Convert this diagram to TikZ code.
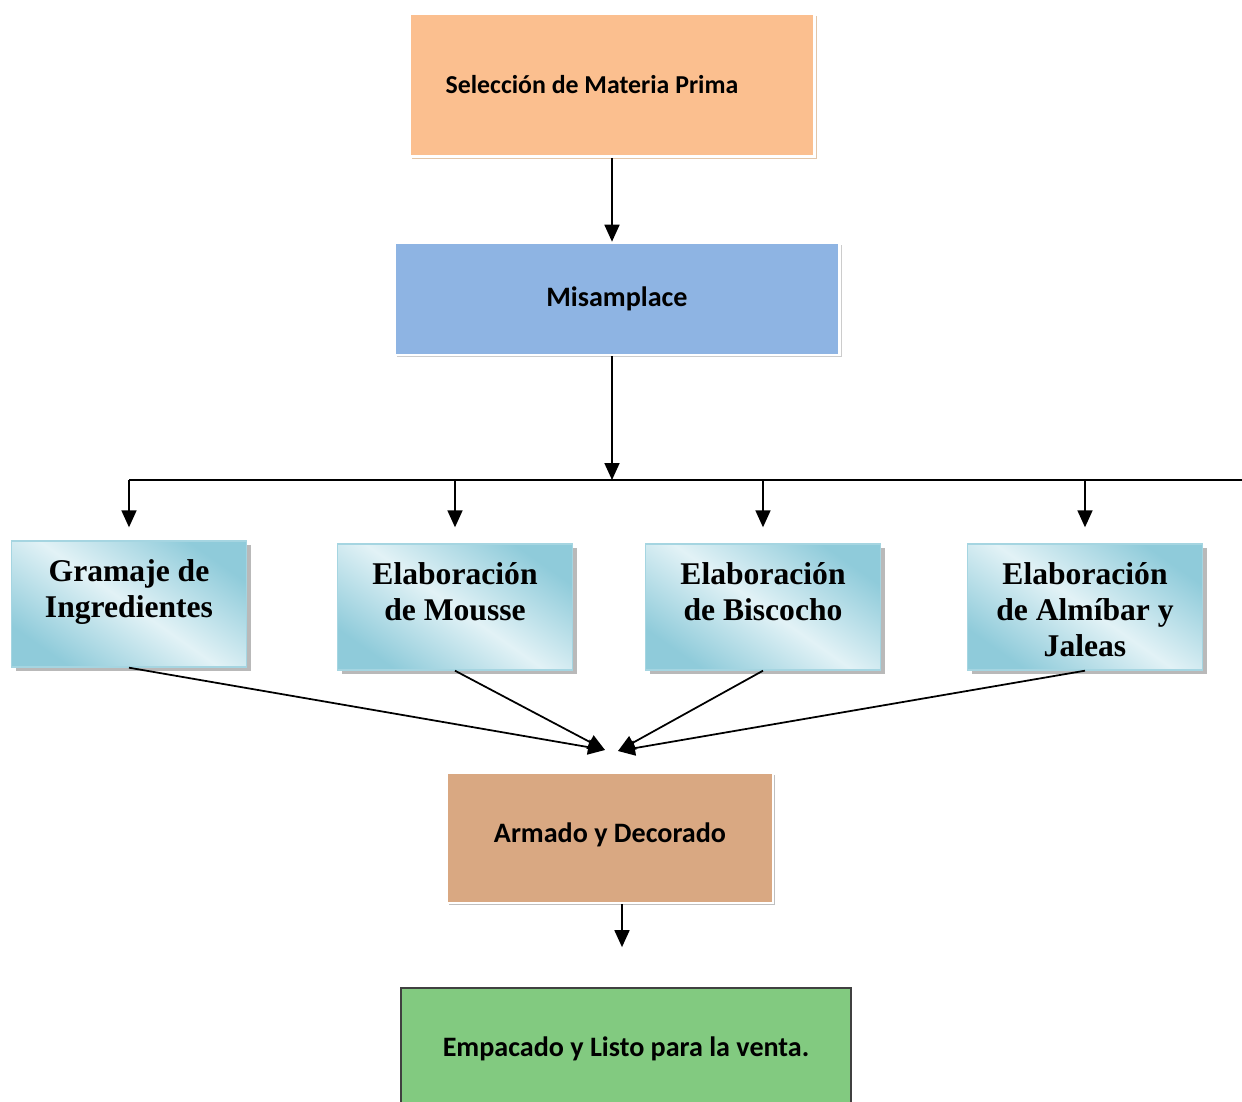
\documentclass[tikz,border=0pt]{standalone}
\usepackage{fontspec}
\setmainfont{Liberation Serif}
\newfontfamily\boxfont{Carlito}
\usetikzlibrary{arrows.meta,shadows}

\definecolor{selfill}{HTML}{FBBF8F}
\definecolor{misfill}{HTML}{8EB4E3}
\definecolor{armfill}{HTML}{D9A882}
\definecolor{empfill}{HTML}{82CA80}
\definecolor{cyandark}{HTML}{8FCBDA}
\definecolor{cyanlight}{HTML}{E2F2F6}

% top aligned text inside the blue step boxes
\newcommand{\toptext}[1]{\parbox[c][2.52cm][t]{4.7cm}{\centering\rule{0pt}{23pt}#1}}

\tikzset{
    flat/.style={draw=white, line width=1.5pt, inner sep=0pt,
        font=\boxfont\bfseries\fontsize{16}{18}\selectfont,
        general shadow={fill=#1, shadow xshift=1.2pt, shadow yshift=-1.2pt}},
    stepbox/.style={draw=cyandark!80, line width=0.8pt, inner sep=0pt,
        left color=cyandark, right color=cyandark, middle color=cyanlight,
        shading angle=-35,
        font=\bfseries\fontsize{18}{20.5}\selectfont,
        general shadow={fill=gray!55, shadow xshift=2.5pt, shadow yshift=-2.5pt}},
    link/.style={-{Triangle[length=0.34cm, width=0.3cm]}, line width=1pt}
}

\begin{document}
\begin{tikzpicture}[x=0.02cm, y=-0.02cm]
    \useasboundingbox (0, 0) rectangle (1242, 1102);
    \path
    (612, 85) node[flat=brown!45, fill=selfill, minimum width=8.1cm, minimum height=2.86cm] (sel)
        {\hspace*{-0.8cm}\fontsize{14.7}{17}\selectfont Selección de Materia Prima}
    (617, 299) node[flat=gray!40, fill=misfill, minimum width=8.9cm, minimum height=2.24cm] (mis)
        {Misamplace}
    (129, 604) node[stepbox] (gram) {\toptext{Gramaje de\\Ingredientes}}
    (455, 607) node[stepbox] (mousse) {\toptext{Elaboración\\de Mousse}}
    (763, 607) node[stepbox] (bisc) {\toptext{Elaboración\\de Biscocho}}
    (1085, 607) node[stepbox] (alm) {\toptext{Elaboración\\de Almíbar y\\Jaleas}}
    (610, 838) node[flat=gray!50, fill=armfill, minimum width=6.52cm, minimum height=2.6cm] (arm)
        {\raisebox{0.2cm}{Armado y Decorado}}
    (626, 1049) node[draw=black!75, line width=1pt, fill=empfill, inner sep=0pt,
        minimum width=9cm, minimum height=2.44cm,
        font=\boxfont\bfseries\fontsize{16}{18}\selectfont] (emp)
        {Empacado y Listo para la venta.};

    \coordinate (bus) at (612, 480);
    \coordinate (busend) at (1242, 480);
    \coordinate (mergeL) at (605, 750);
    \coordinate (mergeR) at (618, 751);

    \draw[link] (sel.south -| bus) -- (mis.north -| bus);
    \draw[link] (mis.south -| bus) -- (bus);
    \draw[line width=1pt] (gram.north |- bus) -- (busend);
    \draw[link, shorten >=0.26cm] (gram.north |- bus) -- (gram.north);
    \draw[link, shorten >=0.32cm] (mousse.north |- bus) -- (mousse.north);
    \draw[link, shorten >=0.32cm] (bisc.north |- bus) -- (bisc.north);
    \draw[link, shorten >=0.32cm] (alm.north |- bus) -- (alm.north);

    \draw[link] (gram.south) -- (mergeL);
    \draw[link] (mousse.south) -- (mergeL);
    \draw[link] (bisc.south) -- (mergeR);
    \draw[link] (alm.south) -- (mergeR);

    \draw[link, shorten >=0.8cm] (arm.south -| 622, 0) -- (emp.north -| 622, 0);
\end{tikzpicture}
\end{document}
